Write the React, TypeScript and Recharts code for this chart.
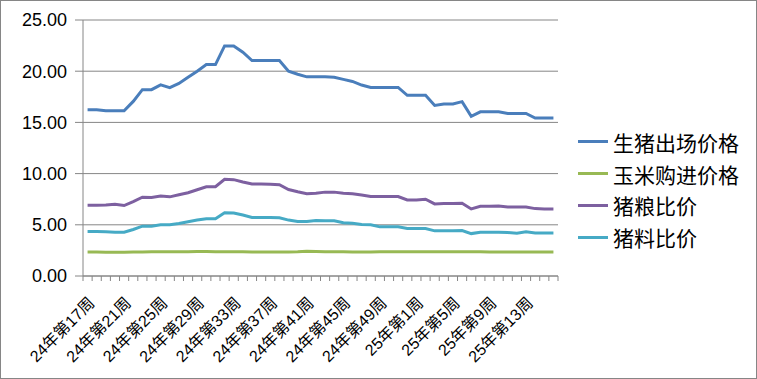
import { LineChart, Line, XAxis, YAxis, CartesianGrid, Legend } from 'recharts';

// 24年第17周 ... 24年第52周, 25年第1周 ... 25年第16周
const weeks24 = [17, 18, 19, 20, 21, 22, 23, 24, 25, 26, 27, 28, 29, 30, 31, 32, 33, 34, 35, 36, 37, 38, 39, 40, 41, 42, 43, 44, 45, 46, 47, 48, 49, 50, 51, 52];
const weeks25 = [1, 2, 3, 4, 5, 6, 7, 8, 9, 10, 11, 12, 13, 14, 15, 16];
const categories = [
  ...weeks24.map(w => `24年第${w}周`),
  ...weeks25.map(w => `25年第${w}周`),
];

const hogPrice = [
  16.23, 16.23, 16.14, 16.14, 16.14, 17.05, 18.2, 18.2, 18.67, 18.4,
  18.8, 19.4, 20.0, 20.65, 20.65, 22.47, 22.47, 21.85, 21.04, 21.04,
  21.04, 21.04, 20.0, 19.7, 19.45, 19.45, 19.45, 19.4, 19.2, 19.0,
  18.65, 18.42, 18.42, 18.42, 18.42, 17.65, 17.65, 17.65, 16.65, 16.8,
  16.8, 17.03, 15.6, 16.03, 16.03, 16.03, 15.87, 15.87, 15.87, 15.42,
  15.42, 15.42,
];
const cornPrice = [
  2.35, 2.35, 2.32, 2.32, 2.33, 2.35, 2.35, 2.36, 2.36, 2.37,
  2.37, 2.38, 2.39, 2.39, 2.38, 2.38, 2.38, 2.37, 2.35, 2.34,
  2.34, 2.34, 2.35, 2.37, 2.42, 2.4, 2.37, 2.36, 2.36, 2.35,
  2.35, 2.35, 2.36, 2.36, 2.36, 2.36, 2.36, 2.36, 2.36, 2.36,
  2.36, 2.37, 2.37, 2.36, 2.35, 2.35, 2.35, 2.35, 2.35, 2.35,
  2.35, 2.35,
];
const hogGrainRatio = [
  6.91, 6.91, 6.94, 7.0, 6.88, 7.27, 7.7, 7.66, 7.8, 7.73,
  7.93, 8.13, 8.42, 8.72, 8.72, 9.44, 9.41, 9.18, 8.98, 8.98,
  8.95, 8.91, 8.45, 8.22, 8.03, 8.08, 8.19, 8.19, 8.09, 8.03,
  7.9, 7.76, 7.76, 7.76, 7.76, 7.43, 7.43, 7.5, 7.04, 7.07,
  7.07, 7.1, 6.55, 6.8, 6.8, 6.84, 6.74, 6.74, 6.74, 6.58,
  6.55, 6.55,
];
const hogFeedRatio = [
  4.34, 4.34, 4.31, 4.28, 4.28, 4.54, 4.87, 4.87, 5.0, 5.0,
  5.13, 5.3, 5.46, 5.6, 5.6, 6.18, 6.15, 5.95, 5.72, 5.72,
  5.72, 5.69, 5.46, 5.33, 5.33, 5.41, 5.39, 5.39, 5.2, 5.16,
  5.03, 5.0, 4.8, 4.8, 4.8, 4.64, 4.64, 4.64, 4.41, 4.41,
  4.41, 4.44, 4.14, 4.28, 4.28, 4.28, 4.24, 4.18, 4.31, 4.21,
  4.21, 4.21,
];
const yTicks = [0, 5, 10, 15, 20, 25];

const series = [
  { key: 'hog', name: '生猪出场价格', color: '#4A7EBB' },
  { key: 'corn', name: '玉米购进价格', color: '#98B954' },
  { key: 'grain', name: '猪粮比价', color: '#7D60A0' },
  { key: 'feed', name: '猪料比价', color: '#46AAC5' },
];

const chartData = categories.map((cat, i) => ({
  cat,
  hog: hogPrice[i],
  corn: cornPrice[i],
  grain: hogGrainRatio[i],
  feed: hogFeedRatio[i],
}));

const FONT = '"Liberation Sans", "Noto Sans CJK SC", sans-serif';
const AXIS = '#868686';
const PLOT_W = 475;
const BAND = PLOT_W / categories.length;

function XTick(props: any) {
  const { x, y, index } = props;
  const half = BAND / 2;
  return (
    <g>
      <line x1={x - half} x2={x - half} y1={y} y2={y + 5} stroke={AXIS} />
      {index === categories.length - 1 && (
        <line x1={x + half} x2={x + half} y1={y} y2={y + 5} stroke={AXIS} />
      )}
      {index % 4 === 0 && (
        <text
          x={x + 8}
          y={y + 28}
          textAnchor="end"
          fontSize={16}
          fill="#000"
          fontFamily={FONT}
          transform={`rotate(-45, ${x + 8}, ${y + 28})`}
        >
          {props.payload.value}
        </text>
      )}
    </g>
  );
}

function LegendBox() {
  return (
    <div style={{ width: 190, fontFamily: '"Noto Sans CJK SC", sans-serif' }}>
      {series.map(s => (
        <div key={s.key} style={{ height: 31.7, display: 'flex', alignItems: 'center' }}>
          <span style={{ display: 'inline-block', flexShrink: 0, width: 30, height: 3, marginLeft: 20, background: s.color }} />
          <span style={{ flexShrink: 0, marginLeft: 5, fontSize: 21, lineHeight: '24px', color: '#000', whiteSpace: 'nowrap' }}>{s.name}</span>
        </div>
      ))}
    </div>
  );
}

export default function App() {
  return (
    <div style={{ position: 'absolute', left: 0, top: 0, width: 757, height: 379, background: '#fff' }}>
      <LineChart
        width={757}
        height={379}
        data={chartData}
        margin={{ top: 20, right: 9, bottom: 0, left: 0 }}
        style={{ fontFamily: FONT }}
      >
        <CartesianGrid vertical={false} stroke={AXIS} strokeWidth={1} />
        <XAxis
          dataKey="cat"
          interval={0}
          height={103}
          tickSize={0}
          tickMargin={0}
          tickLine={false}
          axisLine={{ stroke: AXIS }}
          padding={{ left: BAND / 2, right: BAND / 2 }}
          tick={<XTick />}
        />
        <YAxis
          width={83}
          domain={[0, 25]}
          ticks={yTicks}
          interval={0}
          tickFormatter={(v: number) => v.toFixed(2)}
          tickSize={8}
          tickMargin={8}
          axisLine={{ stroke: AXIS }}
          tickLine={{ stroke: AXIS }}
          tick={{ fill: '#000', fontSize: 18 }}
        />
        <Legend layout="vertical" align="right" verticalAlign="middle" content={<LegendBox />} />
        {series.map(s => (
          <Line
            key={s.key}
            dataKey={s.key}
            name={s.name}
            stroke={s.color}
            strokeWidth={3}
            dot={false}
            isAnimationActive={false}
          />
        ))}
      </LineChart>
      <div style={{ position: 'absolute', left: 0, top: 0, width: 757, height: 379, boxSizing: 'border-box', border: `1px solid ${AXIS}`, pointerEvents: 'none' }} />
    </div>
  );
}
